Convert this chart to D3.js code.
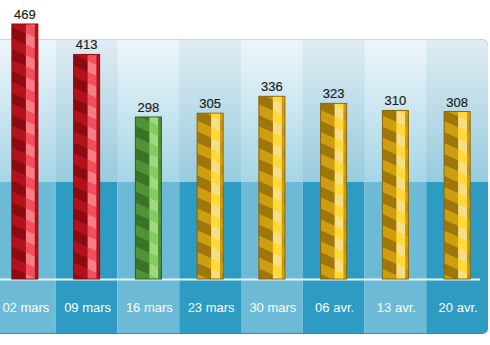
<!DOCTYPE html>
<html lang="fr">
<head>
<meta charset="utf-8">
<title>Bar chart</title>
<script src="https://cdnjs.cloudflare.com/ajax/libs/d3/7.8.5/d3.min.js"></script>
<style>
  body { margin: 0; background: #fff; }
  svg { display: block; font-family: "Liberation Sans", Arial, sans-serif; }
</style>
</head>
<body>
<script>
// data
var categories = ["02 mars", "09 mars", "16 mars", "23 mars", "30 mars", "06 avr.", "13 avr.", "20 avr."];
var values = [469, 413, 298, 305, 336, 323, 310, 308];
var colorKeys = ["red", "red", "green", "gold", "gold", "gold", "gold", "gold"];

var w = 490, h = 345;
var panelTop = 39, bandTop = 182, baseY = 279, labelBottom = 333, rightEdge = 488;

var palette = {
  red:   { border: "#8f0c12", dark: "#b3121b", stripe: "#8e0a11", light: "#f0505c", lightStripe: "#f88a93" },
  green: { border: "#2f5f1c", dark: "#4f9334", stripe: "#3a7324", light: "#86cb60", lightStripe: "#a8dc88" },
  gold:  { border: "#8a6506", dark: "#cf9e10", stripe: "#9e7609", light: "#ffd83a", lightStripe: "#f1e09a" }
};

var svg = d3.select("body").append("svg").attr("width", w).attr("height", h);
var defs = svg.append("defs");

var x = d3.scaleBand().domain(categories).range([-6, rightEdge]).padding(0);
var y = d3.scaleLinear().domain([0, 469]).range([baseY, 24]);
var barW = 26;

// gradient for the upper panel
var g1 = defs.append("linearGradient").attr("id", "panelGrad").attr("x1", 0).attr("y1", 0).attr("x2", 0).attr("y2", 1);
g1.append("stop").attr("offset", "0%").attr("stop-color", "#eef6fa");
g1.append("stop").attr("offset", "100%").attr("stop-color", "#9fd2e4");

defs.append("clipPath").attr("id", "panelClip")
  .append("path")
  .attr("d", "M0," + panelTop + " H" + (rightEdge - 6) + " Q" + rightEdge + "," + panelTop + " " + rightEdge + "," + (panelTop + 6) +
             " V" + (labelBottom - 6) + " Q" + rightEdge + "," + labelBottom + " " + (rightEdge - 6) + "," + labelBottom + " H0 Z");

// stripe patterns for the bars (bands going down to the right)
Object.keys(palette).forEach(function(k) {
  var p = palette[k];
  var pat = defs.append("pattern").attr("id", "stripe-" + k)
    .attr("patternUnits", "userSpaceOnUse").attr("width", 20).attr("height", 20)
    .attr("patternTransform", "rotate(24)");
  pat.append("rect").attr("width", 20).attr("height", 20).attr("fill", p.dark);
  pat.append("rect").attr("width", 20).attr("height", 10).attr("fill", p.stripe);
  var pat2 = defs.append("pattern").attr("id", "stripeL-" + k)
    .attr("patternUnits", "userSpaceOnUse").attr("width", 20).attr("height", 20)
    .attr("patternTransform", "rotate(24)");
  pat2.append("rect").attr("width", 20).attr("height", 20).attr("fill", p.light);
  pat2.append("rect").attr("width", 20).attr("height", 10).attr("fill", p.lightStripe).attr("opacity", 0.75);
});

var bg = svg.append("g").attr("clip-path", "url(#panelClip)");

bg.append("rect").attr("x", 0).attr("y", panelTop).attr("width", rightEdge).attr("height", bandTop - panelTop)
  .attr("fill", "url(#panelGrad)");

// alternating columns in the upper panel
bg.selectAll(".ucol").data(categories).enter().append("rect")
  .attr("x", function(d) { return x(d); })
  .attr("y", panelTop)
  .attr("width", x.bandwidth())
  .attr("height", bandTop - panelTop)
  .attr("fill", function(d, i) { return i % 2 ? "rgba(40,120,160,0.07)" : "rgba(255,255,255,0.08)"; });

// lower band and label band
bg.selectAll(".lcol").data(categories).enter().append("rect")
  .attr("x", function(d) { return x(d); })
  .attr("y", bandTop)
  .attr("width", x.bandwidth())
  .attr("height", labelBottom - bandTop)
  .attr("fill", function(d, i) { return i % 2 ? "#2e9bc3" : "#6cbad6"; });

// top edge line
svg.append("path")
  .attr("d", "M0," + (panelTop + 0.5) + " H" + (rightEdge - 6) + " Q" + (rightEdge - 0.5) + "," + (panelTop + 0.5) + " " + (rightEdge - 0.5) + "," + (panelTop + 6))
  .attr("fill", "none").attr("stroke", "#c9d6dd").attr("stroke-width", 1);

// bottom shadow
svg.append("path")
  .attr("d", "M0," + (labelBottom + 0.5) + " H" + (rightEdge - 6) + " Q" + (rightEdge - 0.5) + "," + (labelBottom + 0.5) + " " + (rightEdge - 0.5) + "," + (labelBottom - 6))
  .attr("fill", "none").attr("stroke", "#2a8fb5").attr("stroke-width", 1);

// axis line
svg.append("line").attr("x1", 0).attr("x2", 480).attr("y1", baseY + 0.5).attr("y2", baseY + 0.5)
  .attr("stroke", "#e6f4fa").attr("stroke-width", 2);

// bars
var bars = svg.selectAll(".bar").data(values).enter().append("g").attr("class", "bar");

bars.append("rect")
  .attr("x", function(d, i) { return x(categories[i]) + x.bandwidth() / 2 - barW / 2; })
  .attr("y", function(d) { return y(d); })
  .attr("width", barW)
  .attr("height", function(d) { return baseY - y(d); })
  .attr("fill", function(d, i) { return "url(#stripe-" + colorKeys[i] + ")"; })
  .attr("stroke", function(d, i) { return palette[colorKeys[i]].border; })
  .attr("stroke-width", 1);

bars.append("rect")
  .attr("x", function(d, i) { return x(categories[i]) + x.bandwidth() / 2 + 1; })
  .attr("y", function(d) { return y(d) + 0.5; })
  .attr("width", 9)
  .attr("height", function(d) { return baseY - y(d) - 1; })
  .attr("fill", function(d, i) { return "url(#stripeL-" + colorKeys[i] + ")"; });

bars.append("rect")
  .attr("x", function(d, i) { return x(categories[i]) + x.bandwidth() / 2 + 10; })
  .attr("y", function(d) { return y(d) + 0.5; })
  .attr("width", 2.5)
  .attr("height", function(d) { return baseY - y(d) - 1; })
  .attr("fill", function(d, i) { return palette[colorKeys[i]].dark; })
  .attr("opacity", 0.8);

// value labels
svg.selectAll(".val").data(values).enter().append("text")
  .attr("x", function(d, i) { return x(categories[i]) + x.bandwidth() / 2; })
  .attr("y", function(d) { return y(d) - 5; })
  .attr("text-anchor", "middle")
  .attr("font-size", "13px")
  .attr("fill", "#1e1e1e")
  .attr("stroke", "#1e1e1e")
  .attr("stroke-width", 0.2)
  .text(function(d) { return d; });

// category labels
svg.selectAll(".cat").data(categories).enter().append("text")
  .attr("x", function(d) { return x(d) + x.bandwidth() / 2 + 1; })
  .attr("y", 312)
  .attr("text-anchor", "middle")
  .attr("font-size", "13px")
  .attr("fill", "#ffffff")
  .text(function(d) { return d; })
</script>
</body>
</html>
